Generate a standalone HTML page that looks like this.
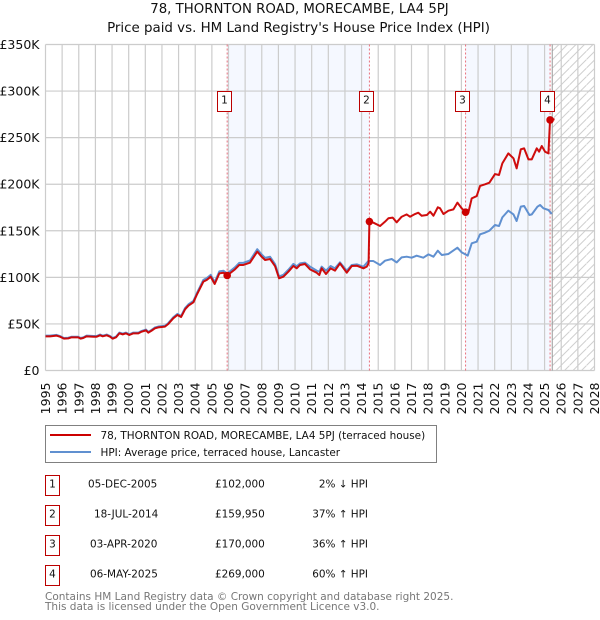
<!DOCTYPE html>
<html lang="en">
<head>
<meta charset="utf-8">
<title>78, Thornton Road, Morecambe - price paid vs HPI</title>
<style>
html,body{margin:0;padding:0;background:#fff;}
#chart{display:block;width:600px;height:620px;font-family:"DejaVu Sans","Liberation Sans",sans-serif;}
</style>
</head>
<body>
<svg id="chart" xmlns="http://www.w3.org/2000/svg" width="600" height="620" viewBox="0 0 600 620">
  <defs>
    <pattern id="hatch" patternUnits="userSpaceOnUse" width="8.5" height="8.5">
      <path d="M-1,9.5 L9.5,-1" stroke="#cfcfcf" stroke-width="1" fill="none"/>
    </pattern>
  </defs>
  <text x="299.5" y="13" text-anchor="middle" font-size="13.3" fill="#111">78, THORNTON ROAD, MORECAMBE, LA4 5PJ</text>
  <text x="298.5" y="32" text-anchor="middle" font-size="13.4" fill="#111">Price paid vs. HM Land Registry's House Price Index (HPI)</text>
  <g id="plot"></g>

  <g>
    <rect x="45.5" y="425.5" width="391" height="37" fill="#fff" stroke="#808080" stroke-width="1"/>
    <line x1="50" x2="91" y1="435" y2="435" stroke="#cc0000" stroke-width="2"/>
    <text x="100.5" y="439" font-size="10.45" fill="#111">78, THORNTON ROAD, MORECAMBE, LA4 5PJ (terraced house)</text>
    <line x1="50" x2="91" y1="452" y2="452" stroke="#6090d0" stroke-width="2"/>
    <text x="100.5" y="456" font-size="10.45" fill="#111">HPI: Average price, terraced house, Lancaster</text>
  </g>

  <g font-size="10.45" fill="#111">
    <g>
      <rect x="45.5" y="475.5" width="14" height="20" fill="#fff" stroke="#bb0000" stroke-width="1"/>
      <text x="52.5" y="487.5" text-anchor="middle">1</text>
      <text x="88" y="487.5">05-DEC-2005</text>
      <text x="215" y="487.5">£102,000</text>
      <text x="368" y="487.5" text-anchor="end">2% ↓ HPI</text>
    </g>
    <g>
      <rect x="45.5" y="505.5" width="14" height="20" fill="#fff" stroke="#bb0000" stroke-width="1"/>
      <text x="52.5" y="517.5" text-anchor="middle">2</text>
      <text x="94" y="517.5">18-JUL-2014</text>
      <text x="215" y="517.5">£159,950</text>
      <text x="368" y="517.5" text-anchor="end">37% ↑ HPI</text>
    </g>
    <g>
      <rect x="45.5" y="535.5" width="14" height="20" fill="#fff" stroke="#bb0000" stroke-width="1"/>
      <text x="52.5" y="547.5" text-anchor="middle">3</text>
      <text x="90" y="547.5">03-APR-2020</text>
      <text x="215" y="547.5">£170,000</text>
      <text x="368" y="547.5" text-anchor="end">36% ↑ HPI</text>
    </g>
    <g>
      <rect x="45.5" y="565.5" width="14" height="20" fill="#fff" stroke="#bb0000" stroke-width="1"/>
      <text x="52.5" y="577.5" text-anchor="middle">4</text>
      <text x="90" y="577.5">06-MAY-2025</text>
      <text x="215" y="577.5">£269,000</text>
      <text x="368" y="577.5" text-anchor="end">60% ↑ HPI</text>
    </g>
  </g>

  <text x="45" y="600" font-size="10.5" fill="#777">Contains HM Land Registry data © Crown copyright and database right 2025.</text>
  <text x="45" y="610" font-size="10.5" fill="#777">This data is licensed under the Open Government Licence v3.0.</text>
</svg>
<script>
var yearTicks = [1995,1996,1997,1998,1999,2000,2001,2002,2003,2004,2005,2006,2007,2008,2009,2010,2011,2012,2013,2014,2015,2016,2017,2018,2019,2020,2021,2022,2023,2024,2025,2026,2027,2028];
var priceTicks = [0,50,100,150,200,250,300,350];
var priceTickLabels = ['£0','£50K','£100K','£150K','£200K','£250K','£300K','£350K'];

var paidDates = [1995.0,1995.27,1995.67,1995.87,1996.11,1996.37,1996.57,1996.97,1997.11,1997.27,1997.47,1997.88,1998.08,1998.28,1998.44,1998.68,1998.88,1999.04,1999.24,1999.44,1999.64,1999.84,2000.04,2000.28,2000.58,2000.78,2001.04,2001.18,2001.38,2001.58,2001.78,2002.18,2002.38,2002.68,2002.93,2003.15,2003.39,2003.59,2003.89,2004.09,2004.29,2004.49,2004.69,2004.93,2005.17,2005.45,2005.7,2005.92,2006.39,2006.65,2006.89,2007.29,2007.73,2007.99,2008.2,2008.5,2008.8,2009.04,2009.3,2009.6,2009.9,2010.1,2010.3,2010.6,2010.9,2011.3,2011.46,2011.6,2011.86,2012.14,2012.4,2012.7,2013.11,2013.41,2013.71,2014.11,2014.31,2014.42,2014.47,2014.71,2015.11,2015.41,2015.61,2015.87,2016.11,2016.41,2016.71,2016.91,2017.21,2017.41,2017.61,2017.92,2018.12,2018.32,2018.58,2018.72,2018.92,2019.22,2019.52,2019.76,2020.02,2020.25,2020.42,2020.62,2020.92,2021.12,2021.42,2021.68,2022.02,2022.26,2022.46,2022.82,2023.13,2023.32,2023.57,2023.77,2024.03,2024.23,2024.53,2024.67,2024.83,2025.03,2025.23,2025.33,2025.6];
var paidValues = [36.7,36.7,37.4,36.3,34.2,34.5,35.6,35.6,34.2,34.9,36.7,36.3,36.3,37.8,36.7,37.8,36.3,34.2,35.6,39.9,38.8,39.9,38.1,39.9,39.9,41.7,43.1,40.6,42.8,45.3,46.3,47.1,49.9,56,59.6,57.4,65.7,69.6,73.2,81.1,88.2,95.4,97.2,100.7,92.9,104.3,105,102,108.6,113.3,113.3,115.8,127.6,122.2,118.6,119.7,112,99,100.7,106.1,112.2,109.7,113.3,114.3,108.6,105,102.5,109.7,103.6,109.7,107.2,115,105,112.2,112.5,109.7,111.5,115,160,158.7,155.1,159.8,163.4,164.1,159.1,165.1,167.6,165.1,168,169.4,166.2,166.9,170.5,166.2,175.2,174.1,168,171.6,173,180.2,174.1,170,169.8,184.8,187.3,198.1,199.9,201.6,210.9,209.9,222.4,233.1,227.8,217,237.4,238.5,226.7,226.7,238.5,234.9,241,234.9,233.1,269.6,269.6];

var hpiDates = [1995.0,1995.27,1995.67,1995.87,1996.11,1996.37,1996.57,1996.97,1997.11,1997.27,1997.47,1997.88,1998.08,1998.28,1998.44,1998.68,1998.88,1999.04,1999.24,1999.44,1999.64,1999.84,2000.04,2000.28,2000.58,2000.78,2001.04,2001.18,2001.38,2001.58,2001.78,2002.18,2002.38,2002.68,2002.93,2003.15,2003.39,2003.59,2003.89,2004.09,2004.29,2004.49,2004.69,2004.93,2005.17,2005.45,2005.7,2005.92,2006.39,2006.65,2006.89,2007.29,2007.73,2007.99,2008.2,2008.5,2008.8,2009.04,2009.3,2009.6,2009.9,2010.1,2010.3,2010.6,2010.9,2011.3,2011.46,2011.6,2011.86,2012.14,2012.4,2012.7,2013.11,2013.41,2013.71,2014.11,2014.41,2014.71,2015.11,2015.41,2015.81,2016.11,2016.41,2016.71,2017.01,2017.31,2017.71,2018.02,2018.32,2018.58,2018.82,2019.22,2019.76,2020.02,2020.38,2020.62,2020.92,2021.12,2021.42,2021.68,2022.02,2022.26,2022.46,2022.82,2023.13,2023.32,2023.57,2023.77,2024.09,2024.23,2024.57,2024.73,2024.93,2025.23,2025.43];
var hpiValues = [37.4,37.4,38.2,37.0,34.9,35.2,36.3,36.3,34.9,35.6,37.4,37.0,37.0,38.6,37.4,38.6,37.0,34.9,36.3,40.7,39.6,40.7,38.9,40.7,40.7,42.5,44.0,41.4,43.7,46.2,47.2,48.0,50.9,57.1,60.8,58.5,67.0,71.0,74.7,82.7,90.0,97.3,99.1,102.7,94.8,106.4,107.1,104.1,110.8,115.6,115.6,118.1,130.2,124.6,121.0,122.1,114.2,101,102.7,108.2,114.4,111.9,115.0,115.8,111.5,107.2,106.1,111.5,107.2,112.2,109.7,116.1,107.2,113.3,114,111.5,117.5,117.5,113.3,117.9,119.7,116.1,121.5,122.2,121.1,123.3,121.1,124.7,122.2,128.6,124,125.1,131.9,126.8,123.3,136.5,138.3,146.2,148,150.1,156.2,155.1,164.4,171.6,167.6,160.5,175.9,176.6,166.9,167.6,175.9,177.7,174.1,172.3,168];

var saleDates = [2005.92,2014.47,2020.25,2025.33];
var salePrices = [102,159.95,170,269];
var saleLabels = ['1','2','3','4'];
var nowDate = 2025.46;

var SVGNS = 'http://www.w3.org/2000/svg';
var X0 = 45.5, X1 = 594.5, Y0 = 370.5, Y1 = 44.5;
var xMin = yearTicks[0], xMax = yearTicks[yearTicks.length - 1];
var yMin = priceTicks[0], yMax = priceTicks[priceTicks.length - 1];
function xScale(t) { return X0 + (t - xMin) / (xMax - xMin) * (X1 - X0); }
function yScale(v) { return Y0 - (v - yMin) / (yMax - yMin) * (Y0 - Y1); }

var plot = document.getElementById('plot');
function mk(tag, attrs, parent) {
  var el = document.createElementNS(SVGNS, tag);
  for (var k in attrs) { el.setAttribute(k, attrs[k]); }
  (parent || plot).appendChild(el);
  return el;
}
function linePath(ds, vs) {
  var d = '';
  for (var i = 0; i < ds.length; i++) {
    d += (i ? 'L' : 'M') + xScale(ds[i]).toFixed(2) + ',' + yScale(vs[i]).toFixed(2);
  }
  return d;
}

/* shaded ownership periods */
for (var s = 0; s + 1 < saleDates.length; s += 2) {
  var band = mk('rect', {x: xScale(saleDates[s]), y: Y1, width: xScale(saleDates[s + 1]) - xScale(saleDates[s]), height: Y0 - Y1, fill: '#f5f8ff'});
  
  
}

/* forecast hatch */
var hatch = mk('rect', {x: xScale(nowDate), y: Y1, width: X1 - xScale(nowDate), height: Y0 - Y1, fill: 'url(#hatch)'});



/* grid + x labels */
yearTicks.forEach(function (yr) {
  var gx = xScale(yr);
  var g = mk('line', {x1: gx, x2: gx, y1: Y1, y2: Y0, stroke: '#cccccc', 'stroke-width': 1.2});
  
  
  var t = mk('text', {transform: 'translate(' + (gx + 4.5) + ',382.5) rotate(-90)', 'text-anchor': 'end', 'font-size': 12.5, fill: '#111'});
  t.textContent = yr;
  
  
});
priceTicks.forEach(function (v, i) {
  var gy = yScale(v);
  var g = mk('line', {x1: X0, x2: X1, y1: gy, y2: gy, stroke: '#cccccc', 'stroke-width': 1.2});
  
  
  var t = mk('text', {x: 39.5, y: gy + 4.5, 'text-anchor': 'end', 'font-size': 12.5, fill: '#111'});
  t.textContent = priceTickLabels[i];
  
  
});

/* now line */
var nowLine = mk('line', {x1: xScale(nowDate), x2: xScale(nowDate), y1: Y1, y2: Y0, stroke: '#999999', 'stroke-width': 1});



/* sale vertical lines */
saleDates.forEach(function (d) {
  var l = mk('line', {x1: xScale(d), x2: xScale(d), y1: Y1, y2: Y0, stroke: '#e8707c', 'stroke-width': 1, 'stroke-dasharray': '2 2'});
  
  
});

/* series */
var hpiLine = mk('path', {d: linePath(hpiDates, hpiValues), fill: 'none', stroke: '#6090d0', 'stroke-width': 2, 'stroke-linejoin': 'round'});


var paidLine = mk('path', {d: linePath(paidDates, paidValues), fill: 'none', stroke: '#cc0000', 'stroke-width': 2, 'stroke-linejoin': 'round', 'stroke-opacity': 0.95});



/* sale points + number boxes */
saleDates.forEach(function (d, i) {
  var c = mk('circle', {cx: xScale(d), cy: yScale(salePrices[i]), r: 3.8, fill: '#cc0000'});
  
  
  var bx = Math.round(xScale(d) - 3.3 - 7) + 0.5;
  var r = mk('rect', {x: bx, y: 91.5, width: 14, height: 20, fill: '#fff', stroke: '#bb0000', 'stroke-width': 1});
  
  
  var t = mk('text', {x: bx + 7, y: 103.5, 'text-anchor': 'middle', 'font-size': 10.5, fill: '#111'});
  t.textContent = saleLabels[i];
  
  
});
</script>
</body>
</html>
